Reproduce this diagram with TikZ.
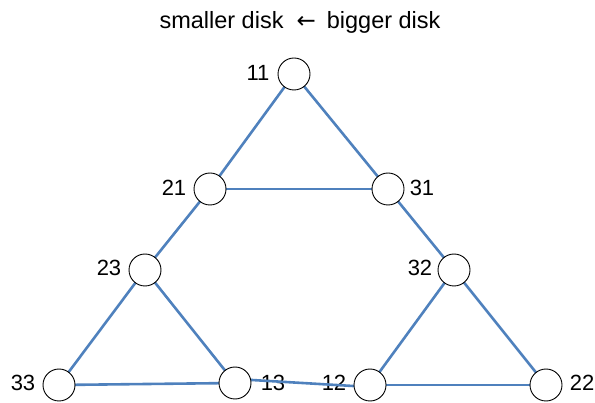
\documentclass[tikz,border=0pt]{standalone}
\usepackage{fontspec}
\setmainfont{Liberation Sans}
\newfontfamily\arrowfont{DejaVu Sans}
\definecolor{edgeblue}{RGB}{79,129,189}
\begin{document}
\begin{tikzpicture}[x=1pt,y=-1pt,
  disk/.style={circle,draw=black,line width=0.9pt,fill=white,minimum size=32pt,inner sep=0pt},
  lab/.style={font=\fontsize{22}{24}\selectfont,inner sep=0pt},
  edge/.style={draw=edgeblue,line width=2.6pt}]
\useasboundingbox (0,0) rectangle (595,403);
\node[lab,font=\fontsize{23.5}{25}\selectfont] (title) at (300,22) {smaller disk\hspace{13pt}{\arrowfont\fontsize{23}{25}\selectfont ←}\hspace{11pt}bigger disk};
% labels
\node[lab] (l11) at (258,73) {11};
\node[lab] (l21) at (174,188) {21};
\node[lab] (l31) at (422,188) {31};
\node[lab] (l23) at (109,268) {23};
\node[lab] (l32) at (420,268) {32};
\node[lab] (l33) at (23,383) {33};
\node[lab] (l13) at (273,383) {13};
\node[lab] (l12) at (334,383) {12};
\node[lab] (l22) at (582,383) {22};
% node positions
\coordinate (p11) at (294,74);
\coordinate (p21) at (210,189);
\coordinate (p31) at (388,189);
\coordinate (p23) at (145,270);
\coordinate (p32) at (454,270);
\coordinate (p33) at (59,385);
\coordinate (p13) at (235,383);
\coordinate (p12) at (370,385);
\coordinate (p22) at (546,385);
% edges
\path[edge] (p11) -- (p21);
\path[edge] (p11) -- (p31);
\path[edge] (p21) -- (p31);
\path[edge] (p21) -- (p23);
\path[edge] (p31) -- (p32);
\path[edge] (p23) -- (p33);
\path[edge] (p23) -- (p13);
\path[edge] (p33) -- (p13);
\path[edge] (p32) -- (p12);
\path[edge] (p32) -- (p22);
\path[edge] (p12) -- (p22);
\path[edge] ([yshift=4pt]p13) -- ([yshift=-2pt]p12);
% disks
\foreach \n in {11,21,31,23,32,33,13,12,22}
  \node[disk] (d\n) at (p\n) {};
\end{tikzpicture}
\end{document}
